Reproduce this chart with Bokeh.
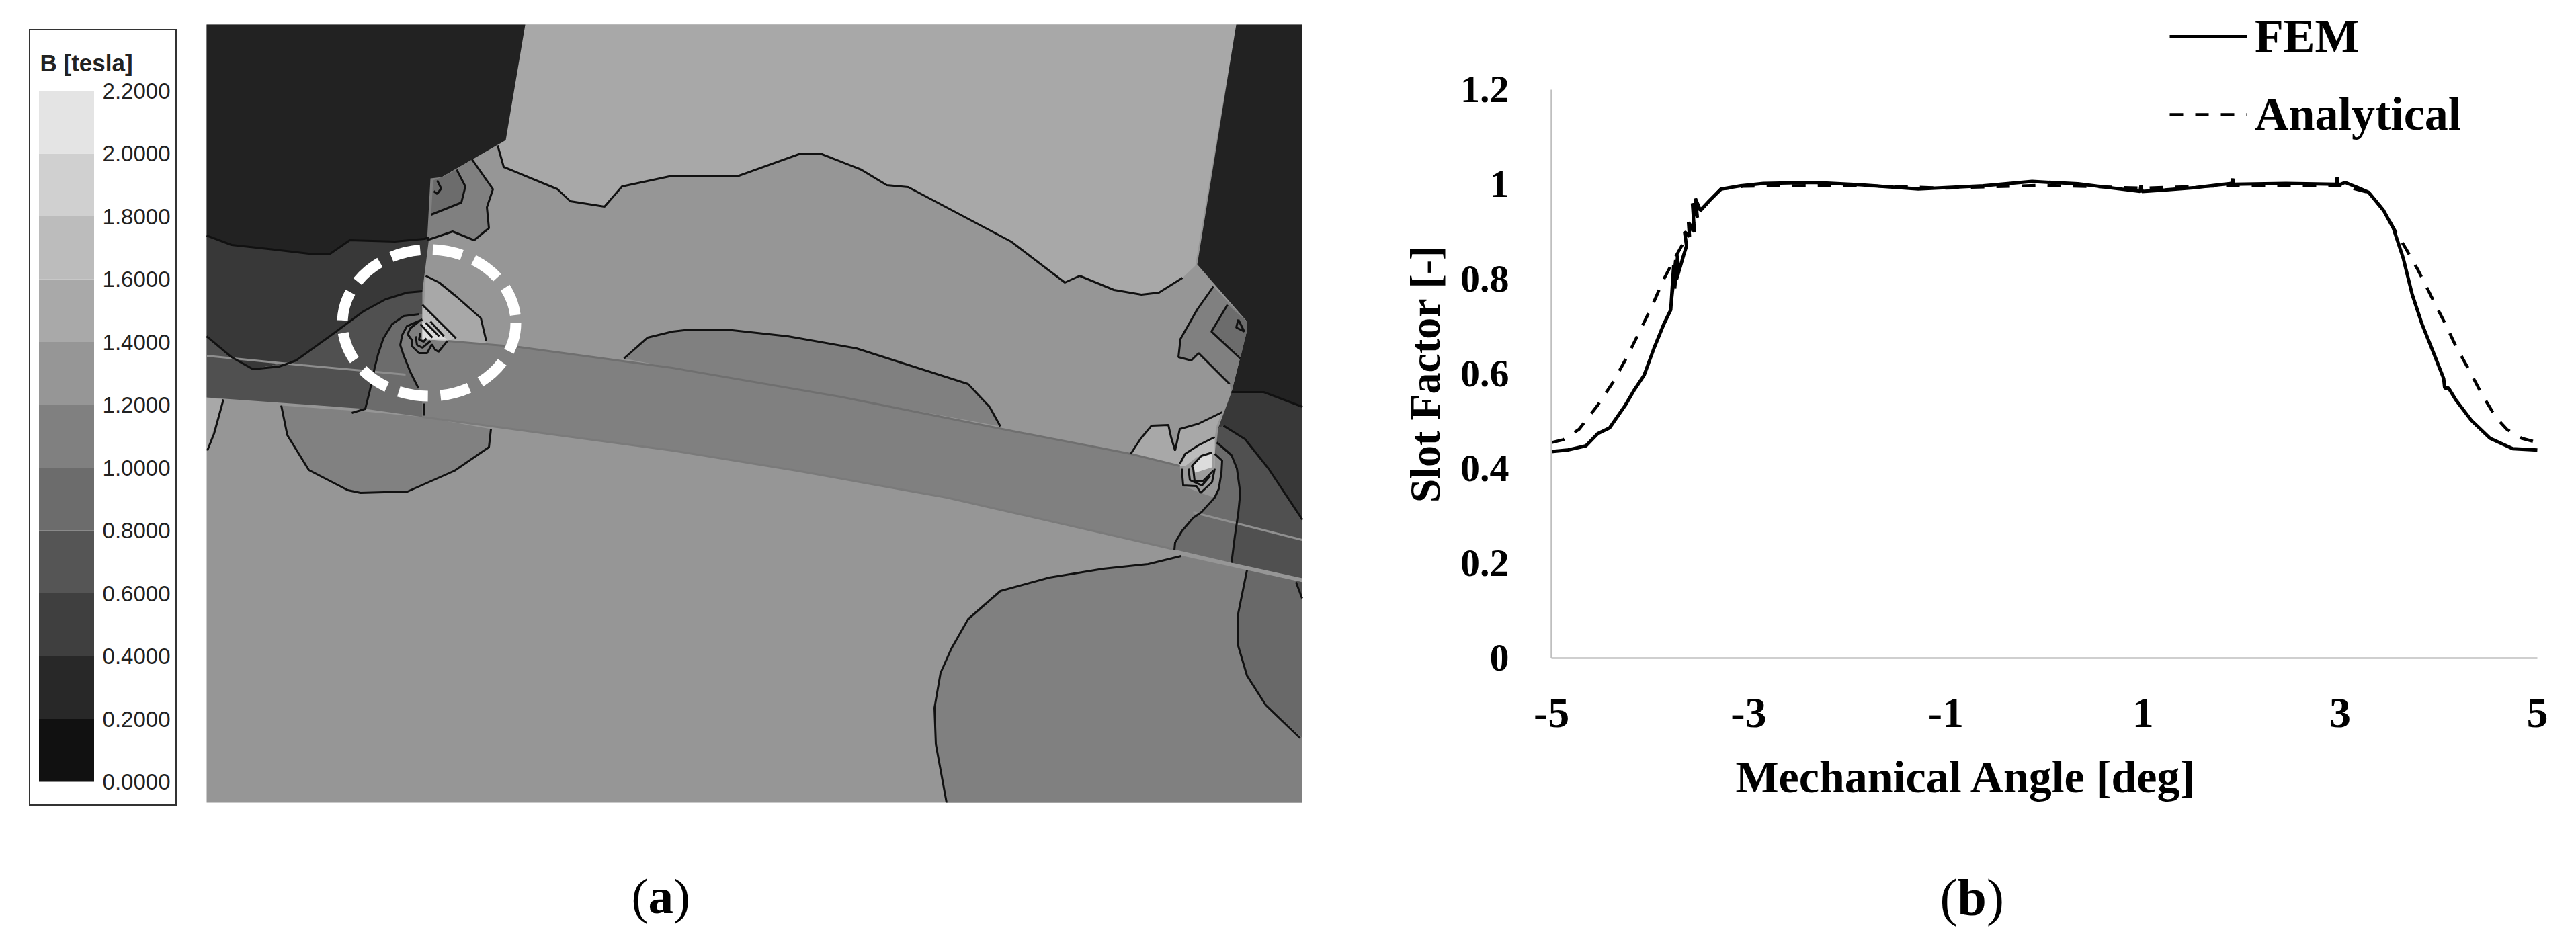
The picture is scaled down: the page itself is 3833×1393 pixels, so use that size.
import math
from bokeh.plotting import figure
from bokeh.layouts import row
from bokeh.embed import file_html
from bokeh.resources import INLINE
from bokeh.models import Range1d, FixedTicker
from bokeh.core.properties import value

# ---------- colour scale (left legend) ----------
b_levels = [0.0, 0.2, 0.4, 0.6, 0.8, 1.0, 1.2, 1.4, 1.6, 1.8, 2.0, 2.2]
b_labels = ["0.0000", "0.2000", "0.4000", "0.6000", "0.8000", "1.0000",
            "1.2000", "1.4000", "1.6000", "1.8000", "2.0000", "2.2000"]
b_colors = ["#111111", "#282828", "#3f3f3f", "#555555", "#6c6c6c", "#808080",
            "#969696", "#a9a9a9", "#bcbcbc", "#d0d0d0", "#e4e4e4"]

# ---------- field map regions ----------
panel = [(307, 36), (1937.5, 36), (1937.5, 1194), (307, 1194)]
corner_ll = [(307, 591), (332, 594), (307, 670)]
light_top = [(781, 36), (1839, 36), (1778, 395), (1759, 413), (1724, 435), (1698, 438), (1657, 431), (1606, 410),
             (1584, 420), (1504, 359), (1351, 278), (1319, 275), (1281, 252), (1220, 228), (1191, 228), (1099, 261),
             (1000, 261), (925, 277), (899, 307), (848, 299), (829, 281), (749, 248), (740, 216), (752, 208)]
bulge_low = [(418, 603), (427, 647), (459, 699), (517, 729), (536, 733), (606, 731), (676, 700), (727, 665), (730, 638),
             (628, 620), (542, 612)]
bulge_up = [(928, 533), (963, 502), (1000, 493), (1026, 490), (1080, 490), (1172, 500), (1274, 518), (1440, 571),
            (1472, 605), (1488, 634), (1250, 590), (1000, 547)]
band_right = [(628, 504), (665, 507), (772, 516), (1000, 547), (1250, 590), (1491, 638), (1682, 675), (1755, 693), (1758, 722),
              (1786, 733), (1807, 740), (1787, 762), (1775, 770), (1758, 790), (1748, 807), (1746, 817),
              (1408, 740), (1185, 700), (1000, 670), (628, 620)]
dark_left = [(307, 36), (781, 36), (752, 208), (702, 237), (657, 263), (638, 353), (631, 355), (587, 359), (520, 357),
             (491, 377), (459, 377), (408, 371), (344, 364), (307, 350)]
dark2_left = [(307, 350), (344, 364), (408, 371), (459, 377), (491, 377), (520, 357), (587, 359), (631, 355), (638, 353),
              (628, 433), (605, 435), (573, 445), (540, 463), (497, 495), (440, 536), (376, 549), (344, 531), (307, 500)]
mid_left = [(307, 500), (344, 531), (376, 549), (440, 536), (497, 495), (540, 463), (573, 445), (605, 435), (628, 433), (628, 467),
            (600, 470), (583, 482), (570, 503), (562, 527), (557, 547), (550, 580), (543, 608), (307, 591)]
step_left = [(628, 467), (600, 470), (583, 482), (570, 503), (562, 527), (557, 547), (550, 580), (543, 608), (628, 620)]
inner_left = [(628, 475), (605, 485), (598, 498), (595, 513), (600, 528), (610, 553), (622, 577), (630, 600), (630, 620)]
glow_d = [(633, 410), (653, 420), (680, 442), (715, 473), (723, 513), (665, 507), (628, 504)]
glow_e = [(628, 453), (678, 503), (665, 507), (628, 504)]
glow_white = [(628, 478), (665, 505), (628, 505)]
tip_a = [(702, 237), (733, 281), (724, 308), (727, 339), (705, 357), (673, 344), (635, 357), (640, 265), (657, 263)]
tip_b = [(679, 252), (692, 277), (686, 301), (641, 319), (644, 268), (657, 263)]
dark_right = [(1839, 36), (1937.5, 36), (1937.5, 605), (1880, 583), (1832, 583), (1855, 491), (1855, 478), (1781, 393)]
dark2_right = [(1832, 583), (1880, 583), (1937.5, 605), (1937.5, 773), (1887, 697), (1852, 653), (1820, 633), (1812, 637)]
mid_right = [(1812, 637), (1820, 633), (1852, 653), (1887, 697), (1937.5, 773), (1937.5, 860), (1832, 837), (1837, 797), (1842, 763),
             (1845, 733), (1840, 697), (1832, 677), (1810, 658)]
step_right = [(1810, 650), (1810, 658), (1832, 677), (1840, 697), (1845, 733), (1842, 763), (1837, 797), (1832, 837), (1746, 817), (1748, 807),
              (1758, 790), (1775, 770), (1787, 762), (1807, 740), (1813, 727), (1817, 703), (1818, 685), (1807, 675)]
glow_right = [(1682, 675), (1697, 652), (1713, 633), (1738, 632), (1742, 650), (1748, 670), (1755, 638), (1783, 630), (1818, 613),
              (1810, 633), (1807, 650), (1807, 675), (1755, 693)]
glow_right2 = [(1807, 650), (1783, 662), (1763, 675), (1755, 693), (1807, 697)]
star_right = [(1758, 697), (1760, 722), (1780, 723), (1786, 733), (1803, 717), (1807, 697), (1807, 675), (1780, 680)]
white_right = [(1803, 673), (1787, 678), (1773, 693), (1778, 703), (1803, 695)]
tip_r_a = [(1805, 426), (1781, 460), (1756, 504), (1753, 531), (1772, 536), (1783, 525), (1829, 571), (1832, 583),
           (1855, 491), (1855, 478)]
tip_r_b = [(1826, 453), (1802, 493), (1845, 533), (1855, 491), (1855, 478)]
low_big = [(1756, 826), (1855, 848), (1937.5, 866), (1937.5, 1194), (1408, 1194), (1392, 1107), (1390, 1053), (1399, 1001),
           (1415, 965), (1440, 921), (1488, 879), (1561, 859), (1641, 846), (1708, 839)]
low_step = [(1855, 848), (1842, 912), (1842, 961), (1855, 1005), (1883, 1049), (1937.5, 1098), (1937.5, 866)]
low_corner = [(1928, 864), (1937.5, 890), (1937.5, 866)]

regions = [
    (panel, "#969696"), (corner_ll, "#a8a8a8"), (light_top, "#a8a8a8"), (bulge_low, "#818181"), (bulge_up, "#808080"),
    (band_right, "#808080"), (low_big, "#808080"), (low_step, "#696969"), (low_corner, "#505050"),
    (dark_left, "#222222"), (dark2_left, "#383838"), (mid_left, "#505050"), (step_left, "#6c6c6c"), (inner_left, "#808080"),
    (glow_d, "#a8a8a8"), (glow_e, "#bcbcbc"), (glow_white, "#dddddd"), (tip_a, "#808080"), (tip_b, "#6c6c6c"),
    (dark_right, "#222222"), (dark2_right, "#383838"), (mid_right, "#505050"), (step_right, "#6c6c6c"),
    (glow_right, "#a8a8a8"), (glow_right2, "#bcbcbc"), (star_right, "#9c9c9c"), (white_right, "#dcdcdc"),
    (tip_r_a, "#808080"), (tip_r_b, "#6c6c6c"),
]

# ---------- contour lines ----------
contours = [
    light_top[3:-1],
    [(638, 353), (631, 355), (587, 359), (520, 357), (491, 377), (459, 377), (408, 371), (344, 364), (307, 350)],
    [(628, 433), (605, 435), (573, 445), (540, 463), (497, 495), (440, 536), (415, 545), (376, 549), (344, 531), (307, 500)],
    [(623, 467), (600, 470), (583, 482), (570, 503), (562, 527), (557, 547), (550, 580), (543, 608), (523, 614)],
    [(628, 475), (605, 485), (598, 498), (595, 513), (600, 528), (610, 553), (622, 577)],
    [(630, 600), (630, 618)],
    [(633, 410), (653, 420), (680, 442), (715, 473), (723, 507)],
    [(628, 453), (678, 503)],
    [(702, 237), (733, 281), (724, 308), (727, 339), (705, 357), (673, 344), (635, 357)],
    [(679, 252), (692, 277), (686, 301), (641, 319)],
    [(650, 268), (656, 280), (650, 288), (645, 284)],
    [(418, 603), (427, 647), (459, 699), (517, 729), (536, 733), (606, 731), (676, 700), (727, 665), (730, 638)],
    [(332, 594), (318, 645), (308, 670)],
    [(928, 533), (963, 502), (1000, 493), (1026, 490), (1080, 490), (1172, 500), (1274, 518), (1440, 571), (1472, 605), (1488, 634)],
    [(1937.5, 605), (1880, 583), (1832, 583)],
    [(1805, 426), (1781, 460), (1756, 504), (1753, 531), (1772, 536), (1783, 525), (1829, 571)],
    [(1826, 453), (1802, 493), (1845, 533)],
    [(1842, 475), (1851, 493), (1839, 487), (1842, 475)],
    [(1682, 675), (1697, 652), (1713, 633), (1738, 632), (1742, 650), (1748, 670), (1755, 638), (1783, 630), (1818, 613)],
    [(1807, 650), (1783, 662), (1763, 675), (1755, 690)],
    [(1803, 673), (1787, 678), (1773, 693), (1775, 697), (1777, 715), (1790, 715), (1805, 700)],
    [(1758, 697), (1760, 722), (1780, 723), (1786, 733), (1803, 717), (1807, 697)],
    [(1768, 697), (1770, 714), (1788, 722), (1800, 708)],
    [(1820, 633), (1852, 653), (1887, 697), (1937.5, 773)],
    [(1810, 658), (1832, 677), (1840, 697), (1845, 733), (1842, 763), (1837, 797), (1832, 837)],
    [(1807, 675), (1818, 685), (1817, 703), (1813, 727), (1807, 740), (1787, 762), (1775, 770), (1758, 790), (1748, 807), (1747, 818)],
    [(1757, 827), (1708, 839), (1641, 846), (1561, 859), (1488, 879), (1440, 921), (1415, 965), (1399, 1001), (1390, 1053),
     (1392, 1107), (1408, 1194)],
    [(1855, 848), (1842, 912), (1842, 961), (1855, 1005), (1883, 1049), (1934, 1098)],
    [(1928, 866), (1937, 890)],
    # tight rings at the left slot corner
    [(623, 478), (610, 488), (606, 497), (612, 505), (613, 515), (623, 525), (635, 525), (642, 512), (647, 520), (652, 523), (665, 507)],
    [(618, 500), (620, 513), (628, 517), (640, 507)],
    [(625, 495), (623, 505), (630, 508), (634, 503)],
    [(625, 482), (643, 502)], [(633, 480), (653, 500)], [(640, 478), (660, 500)],
]
thin_grey = [
    ([(307, 529), (450, 543), (603, 557)], "#8e8e8e"),
    ([(665, 507), (772, 516), (1000, 547), (1250, 590), (1491, 638), (1682, 675), (1755, 693)], "#6f6f6f"),
    ([(628, 620), (1000, 670), (1185, 700), (1408, 740), (1746, 817)], "#7a7a7a"),
    ([(1775, 762), (1937, 803)], "#909090"),
]
highlight_center = (638, 480)
highlight_size = (258, 218)

# ---------- slot factor chart ----------
fem_x = [-5.00, -4.84, -4.65, -4.53, -4.41, -4.25, -4.16, -4.06, -3.96, -3.86, -3.79, -3.76, -3.78, -3.74, -3.75, -3.72, -3.73,
         -3.66, -3.63, -3.65, -3.60, -3.61, -3.55, -3.57, -3.52, -3.54, -3.49, -3.39, -3.28, -3.08, -2.85, -2.34, -1.87,
         -1.28, -0.62, -0.125, 0.34, 0.97, 0.98, 0.99, 1.22, 1.53, 1.90, 1.91, 1.92, 2.45, 2.96, 2.97, 2.98, 3.05, 3.18, 3.29, 3.44,
         3.54, 3.64, 3.73, 3.83, 3.94, 4.05, 4.06, 4.10, 4.17, 4.33, 4.52, 4.75, 5.00]
fem_y = [0.436, 0.439, 0.448, 0.474, 0.486, 0.534, 0.566, 0.597, 0.654, 0.705, 0.735, 0.83, 0.76, 0.84, 0.78, 0.85, 0.80,
         0.85, 0.87, 0.90, 0.89, 0.92, 0.90, 0.96, 0.93, 0.97, 0.945, 0.967, 0.990, 0.997, 1.002, 1.004, 0.999,
         0.990, 0.997, 1.006, 1.001, 0.985, 0.998, 0.985, 0.988, 0.993, 1.002, 1.012, 1.000, 1.002, 1.000, 1.015, 0.998, 1.004, 0.993, 0.983, 0.945,
         0.907, 0.844, 0.768, 0.705, 0.648, 0.590, 0.570, 0.570, 0.546, 0.502, 0.464, 0.442, 0.439]
ana_x = [-5.00, -4.88, -4.72, -4.53, -4.37, -4.22, -4.10, -3.98, -3.86, -3.75, -3.63, -3.51, -3.39, -3.28, -3.04, -2.0, -1.0, 0.0,
         1.0, 2.0, 3.0, 3.29, 3.44, 3.56, 3.67, 3.79, 3.92, 4.06, 4.17, 4.31, 4.44, 4.58, 4.69, 4.84, 5.00]
ana_y = [0.455, 0.461, 0.483, 0.534, 0.584, 0.641, 0.692, 0.743, 0.800, 0.844, 0.888, 0.939, 0.967, 0.990, 0.996, 0.998, 0.992, 0.998,
         0.992, 0.998, 0.998, 0.983, 0.945, 0.901, 0.863, 0.819, 0.765, 0.708, 0.660, 0.607, 0.556, 0.508, 0.483, 0.464, 0.455]
x_ticks = [-5, -3, -1, 1, 3, 5]
x_tick_labels = ["-5", "-3", "-1", "1", "3", "5"]
y_ticks = [0, 0.2, 0.4, 0.6, 0.8, 1, 1.2]
y_tick_labels = ["0", "0.2", "0.4", "0.6", "0.8", "1", "1.2"]
series_names = ["FEM", "Analytical"]
x_title = "Mechanical Angle [deg]"
y_title = "Slot Factor [-]"
SERIF = "Liberation Serif"
SANS = "Liberation Sans"

# ---------- colour-scale box ----------
fb = figure(width=220, height=1156, margin=(35, 0, 0, 35), output_backend="svg", toolbar_location=None,
            x_range=Range1d(0, 220), y_range=Range1d(-0.077, 2.396), min_border=0, frame_align=False)
fb.axis.visible = False
fb.grid.visible = False
fb.outline_line_color = "#333333"
fb.outline_line_width = 3
fb.quad(left=14.5, right=96.5, bottom=b_levels[:-1], top=b_levels[1:], fill_color=b_colors, line_color=None)
fb.text(x=210, y=b_levels, text=b_labels, text_font=value(SANS), text_font_size="33px", text_align="right",
        text_baseline="middle", text_color="#222222")
fb.text(x=[16], y=[2.29], text=["B [tesla]"], text_font=value(SANS), text_font_size="35px", text_font_style="bold",
        text_baseline="middle", text_color="#222222")

# ---------- field map ----------
ff = figure(width=1787, height=1377, output_backend="svg", toolbar_location=None,
            x_range=Range1d(263, 2050), y_range=Range1d(1385, 8), min_border=0, frame_align=False)
ff.axis.visible = False
ff.grid.visible = False
ff.outline_line_color = None
for poly, col in regions:
    ff.patch([p[0] for p in poly], [p[1] for p in poly], fill_color=col, line_color=None)
for line, col in thin_grey:
    ff.line([p[0] for p in line], [p[1] for p in line], line_color=col, line_width=3)
ff.multi_line([[p[0] for p in c] for c in contours], [[p[1] for p in c] for c in contours], line_color="#111111", line_width=3)
ff.ellipse(x=[highlight_center[0]], y=[highlight_center[1]], width=[highlight_size[0]], height=[highlight_size[1]],
           fill_alpha=0, line_color="white", line_width=16, line_dash="44 19")
ff.text(x=[939, 1001.5], y=[1333, 1333], text=["(", ")"], text_font=value(SERIF), text_font_size="75px", text_baseline="middle", text_color="#000000")
ff.text(x=[964], y=[1333], text=["a"], text_font=value(SERIF), text_font_size="75px", text_font_style="bold", text_baseline="middle", text_color="#000000")

# ---------- slot factor chart: the frame fills the figure, the axes sit at the data origin ----------
fc = figure(width=1775, height=1377, output_backend="svg", toolbar_location=None, frame_align=False,
            x_range=Range1d(-6.759, 5.341), y_range=Range1d(-0.576, 1.377), min_border=0)
fc.grid.visible = False
fc.outline_line_color = None
fc.xaxis.ticker = FixedTicker(ticks=x_ticks)
fc.xaxis.major_label_overrides = dict(zip(x_ticks, x_tick_labels))
fc.yaxis.ticker = FixedTicker(ticks=y_ticks)
fc.yaxis.major_label_overrides = dict(zip(y_ticks, y_tick_labels))
fc.xaxis.bounds = (-5, 5)
fc.yaxis.bounds = (0, 1.2)
fc.xaxis.fixed_location = 0
fc.yaxis.fixed_location = -5
for ax, size, standoff in ((fc.xaxis, "64px", 55), (fc.yaxis, "58px", 57)):
    ax.major_tick_line_color = None
    ax.minor_tick_line_color = None
    ax.axis_line_color = "#bfbfbf"
    ax.axis_line_width = 2.5
    ax.major_label_text_font = SERIF
    ax.major_label_text_font_style = "bold"
    ax.major_label_text_font_size = size
    ax.major_label_text_color = "#000000"
    ax.major_label_standoff = standoff

fc.line(ana_x, ana_y, line_color="#000000", line_width=4.5, line_dash="20 18", legend_label=series_names[1])
fc.line(fem_x, fem_y, line_color="#000000", line_width=5, legend_label=series_names[0])
lg = fc.legend[0]
lg.items = [lg.items[1], lg.items[0]]
lg.location = (1178, 1175)
lg.border_line_color = None
lg.background_fill_alpha = 0
lg.padding = 0
lg.margin = 0
lg.glyph_width = 115
lg.glyph_height = 50
lg.label_height = 50
lg.label_standoff = 12
lg.spacing = 36
lg.label_text_font = SERIF
lg.label_text_font_style = "bold"
lg.label_text_font_size = "70px"
lg.label_text_color = "#000000"

fc.text(x=[-0.79], y=[-0.25], text=[x_title], text_font=value(SERIF), text_font_size="68px", text_font_style="bold",
        text_color="#000000", text_align="center", text_baseline="middle")
fc.text(x=[-6.28], y=[0.6], text=[y_title], text_font=value(SERIF), text_font_size="64px", text_font_style="bold",
        text_color="#000000", text_align="center", text_baseline="middle", angle=math.pi / 2)
fc.text(x=[-1.06, -0.587], y=[-0.505, -0.505], text=["(", ")"], text_font=value(SERIF), text_font_size="78px",
        text_color="#000000", text_baseline="middle")
fc.text(x=[-0.883], y=[-0.505], text=["b"], text_font=value(SERIF), text_font_size="78px", text_font_style="bold",
        text_color="#000000", text_baseline="middle")

layout = row(fb, ff, fc, spacing=0, margin=(8, 0, 0, 8))
open("out.html", "w").write(file_html(layout, INLINE))
